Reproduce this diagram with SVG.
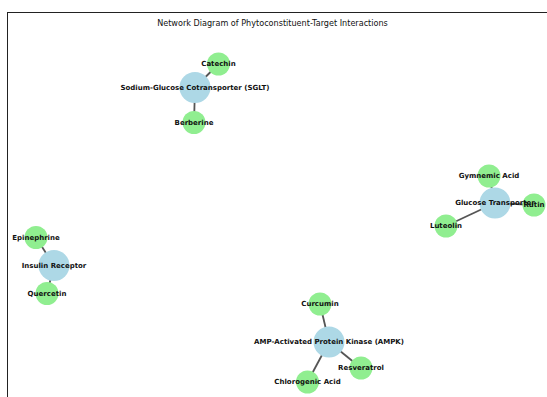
<svg xmlns="http://www.w3.org/2000/svg" width="547" height="397" viewBox="0 0 547 397">
<style>
.t{fill:#ADD8E6}
.p{fill:#90EE90}
.e{stroke:#555;stroke-width:1.8;fill:none}
.lb{font-family:"DejaVu Sans",sans-serif;font-weight:bold;font-size:7px;fill:#111;text-anchor:middle;dominant-baseline:central}
.ti{font-family:"DejaVu Sans",sans-serif;font-size:8.1px;fill:#111;text-anchor:middle}
</style>
<rect width="547" height="397" fill="#fff"/>
<rect x="7.5" y="12.5" width="600" height="450" fill="none" stroke="#222" stroke-width="1"/>
<text class="ti" x="272.5" y="26">Network Diagram of Phytoconstituent-Target Interactions</text>
<g id="edges">
<line class="e" x1="195" y1="87.5" x2="218.5" y2="64"/>
<line class="e" x1="195" y1="87.5" x2="194" y2="122.5"/>
<line class="e" x1="495" y1="203" x2="489" y2="176"/>
<line class="e" x1="495" y1="203" x2="534" y2="205"/>
<line class="e" x1="495" y1="203" x2="446" y2="226"/>
<line class="e" x1="54" y1="265.5" x2="36" y2="237.5"/>
<line class="e" x1="54" y1="265.5" x2="47" y2="293.5"/>
<line class="e" x1="329" y1="342" x2="320" y2="304"/>
<line class="e" x1="329" y1="342" x2="361" y2="368"/>
<line class="e" x1="329" y1="342" x2="307.5" y2="382"/>
</g>
<g id="sglt"><circle class="t" cx="195" cy="87.5" r="15.5"/></g>
<g id="catechin"><circle class="p" cx="218.5" cy="64" r="11.5"/></g>
<g id="berberine"><circle class="p" cx="194" cy="122.5" r="11.5"/></g>
<g id="glut"><circle class="t" cx="495" cy="203" r="15.5"/></g>
<g id="gymnemic"><circle class="p" cx="489" cy="176" r="11.5"/></g>
<g id="rutin"><circle class="p" cx="534" cy="205" r="11.5"/></g>
<g id="luteolin"><circle class="p" cx="446" cy="226" r="11.5"/></g>
<g id="insulin"><circle class="t" cx="54" cy="265.5" r="15.5"/></g>
<g id="epinephrine"><circle class="p" cx="36" cy="237.5" r="11.5"/></g>
<g id="quercetin"><circle class="p" cx="47" cy="293.5" r="11.5"/></g>
<g id="ampk"><circle class="t" cx="329" cy="342" r="15.5"/></g>
<g id="curcumin"><circle class="p" cx="320" cy="304" r="11.5"/></g>
<g id="resveratrol"><circle class="p" cx="361" cy="368" r="11.5"/></g>
<g id="chlorogenic"><circle class="p" cx="307.5" cy="382" r="11.5"/></g>
<g id="labels">
<text class="lb" x="195" y="87.5">Sodium-Glucose Cotransporter (SGLT)</text>
<text class="lb" x="218.5" y="64">Catechin</text>
<text class="lb" x="194" y="122.5">Berberine</text>
<text class="lb" x="495" y="203">Glucose Transporter</text>
<text class="lb" x="489" y="176">Gymnemic Acid</text>
<text class="lb" x="534" y="205">Rutin</text>
<text class="lb" x="446" y="226">Luteolin</text>
<text class="lb" x="54" y="265.5">Insulin Receptor</text>
<text class="lb" x="36" y="237.5">Epinephrine</text>
<text class="lb" x="47" y="293.5">Quercetin</text>
<text class="lb" x="329" y="342">AMP-Activated Protein Kinase (AMPK)</text>
<text class="lb" x="320" y="304">Curcumin</text>
<text class="lb" x="361" y="368">Resveratrol</text>
<text class="lb" x="307.5" y="382">Chlorogenic Acid</text>
</g>
</svg>
